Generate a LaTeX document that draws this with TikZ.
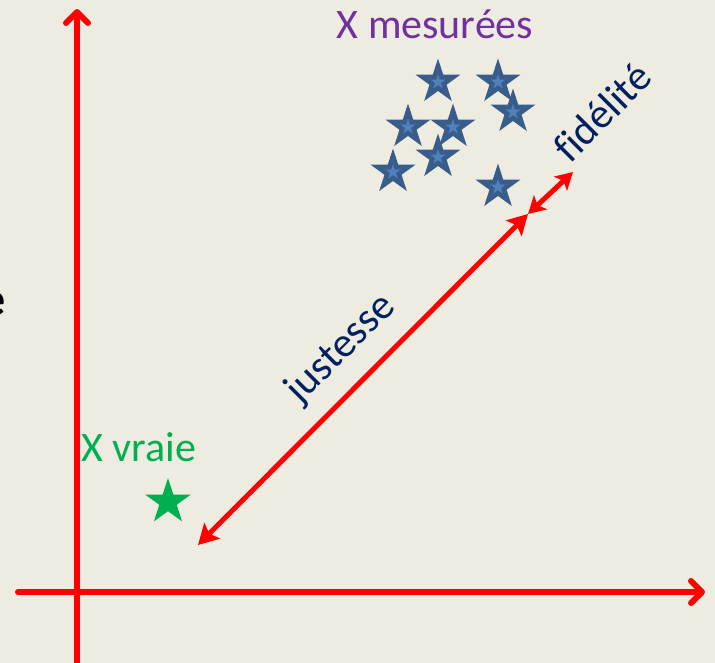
\documentclass[tikz,border=0pt]{standalone}
\usepackage{fontspec}
\setmainfont{Carlito}[Ligatures=NoCommon]
\usetikzlibrary{arrows.meta,shapes.geometric}
\definecolor{bgc}{RGB}{238,236,225}
\definecolor{axred}{RGB}{255,0,0}
\definecolor{purp}{RGB}{112,48,160}
\definecolor{grn}{RGB}{0,176,80}
\definecolor{navy}{RGB}{0,32,96}
\definecolor{stardark}{RGB}{56,93,138}
\definecolor{starlight}{RGB}{79,129,189}
\tikzset{
  axis/.style={draw=axred, line width=6pt, line cap=round,
    -{Straight Barb[round, length=11pt, width=22pt]}},
  dbl/.style={draw=axred, line width=5pt,
    {Stealth[length=20pt, width=22pt, inset=4pt]}-{Stealth[length=20pt, width=22pt, inset=4pt]}},
  dblsmall/.style={draw=axred, line width=5pt,
    {Stealth[length=17pt, width=19pt, inset=4pt]}-{Stealth[length=17pt, width=19pt, inset=4pt]}},
  bigtext/.style={font=\fontsize{42}{50}\selectfont, inner sep=0pt},
  bstar/.style={star, star points=5, star point ratio=2.618, inner sep=0pt,
    minimum size=47pt, fill=stardark, draw=none},
  bstarin/.style={star, star points=5, star point ratio=2.618, inner sep=0pt,
    minimum size=16pt, fill=starlight, draw=none},
  gstar/.style={star, star points=5, star point ratio=2.618, inner sep=0pt,
    minimum size=48pt, fill=grn, draw=none},
}
\newcommand{\bluestar}[3]{%
  \node[bstar] (#1) at (#2,#3) {};
  \node[bstarin] (#1in) at (#2,#3) {};}
\begin{document}
\begin{tikzpicture}[x=1pt,y=-1pt]
\fill[bgc] (0,0) rectangle (715,663);
\useasboundingbox (0,0) rectangle (715,663);
% partial heading letter at the left edge
\node[font=\fontsize{48}{56}\selectfont\bfseries, anchor=base east, inner sep=0pt] (cut) at (6,315) {e};
% axes
\coordinate (yb) at (77,663);
\coordinate (yt) at (77,9);
\coordinate (xl) at (18,592);
\coordinate (xr) at (705,592);
\draw[axis] (yb) -- (yt);
\draw[axis] (xl) -- (xr);
% true value
\node[gstar] (vraie) at (168,502) {};
\node[bigtext, text=grn, anchor=base] (lvraie) at (139,461) {X vraie};
% measured values
\bluestar{s1}{438}{82}
\bluestar{s2}{498}{82}
\bluestar{s3}{513}{112}
\bluestar{s4}{408}{127}
\bluestar{s5}{453}{127}
\bluestar{s6}{438}{157}
\bluestar{s7}{393}{172}
\bluestar{s8}{498}{187}
\node[bigtext, text=purp, anchor=base] (lmes) at (435,39) {X mesurées};
% arrows
\coordinate (a1) at (198,545);
\coordinate (a2) at (528,214);
\coordinate (a3) at (573,172);
\draw[dbl] (a1) -- (a2);
\draw[dblsmall] (a2) -- (a3);
\node[bigtext, text=navy, rotate=45] (just) at (341,349) {justesse};
\node[bigtext, text=navy, rotate=45] (fid) at (602,112) {fidélité};
\end{tikzpicture}
\end{document}
